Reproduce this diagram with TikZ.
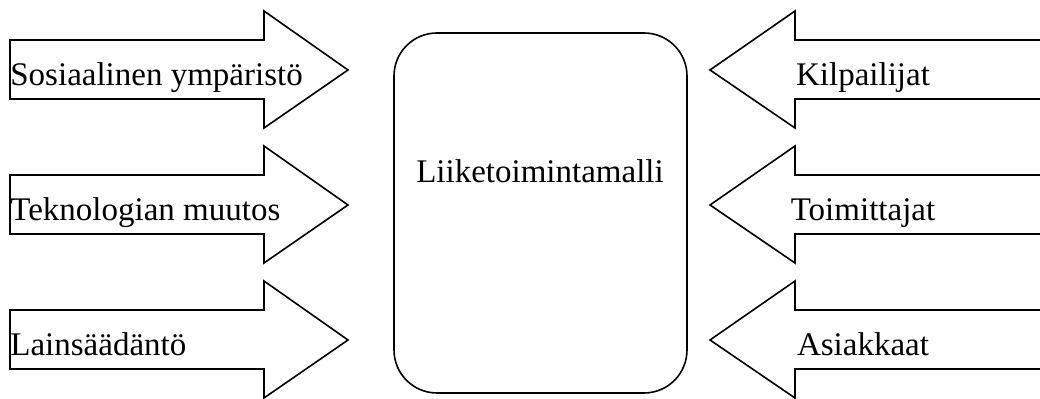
\documentclass[tikz,border=0pt]{standalone}
\usepackage{fontspec}
\setmainfont{Liberation Serif}
\usetikzlibrary{positioning, shapes, calc}
\tikzset{block/.style={draw,line width=0.8pt,line join=miter},
	model/.style={draw,line width=0.8pt,rounded corners=21.5pt,minimum width=146.5pt,minimum height=180pt,inner sep=0pt},
	label/.style={inner sep=0pt,font=\fontsize{16.5pt}{19pt}\selectfont}}

\begin{document}
\begin{tikzpicture}[x=0.5pt,y=-0.5pt]
		\useasboundingbox (0,0) rectangle (1040,399);
		% Draw the model box in the middle
		\node[model] (malli) at (540.5,213) {};
		\node[label, anchor=base] (mallitext) at (540,183) {Liiketoimintamalli};
		% Draw arrows from the left
		\foreach \y/\name/\txt in {70/sos/Sosiaalinen ympäristö, 205/tek/Teknologian muutos, 340/lai/Lainsäädäntö}{
			\draw[block] (10,\y-30) -- (264,\y-30) -- (264,\y-59) -- (348,\y) -- (264,\y+58) -- (264,\y+29) -- (10,\y+29) -- cycle;
			\node[label, anchor=base west] (\name) at (10,\y+16) {\txt};
		}
		% Draw arrows from the right
		\foreach \y/\name/\txt in {70/kil/Kilpailijat, 205/toi/Toimittajat, 340/asi/Asiakkaat}{
			\draw[block] (1040,\y-30) -- (795,\y-30) -- (795,\y-59) -- (710,\y) -- (795,\y+58) -- (795,\y+29) -- (1040,\y+29);
			\node[label, anchor=base] (\name) at (863,\y+16) {\txt};
		}
	\end{tikzpicture}
\end{document}
